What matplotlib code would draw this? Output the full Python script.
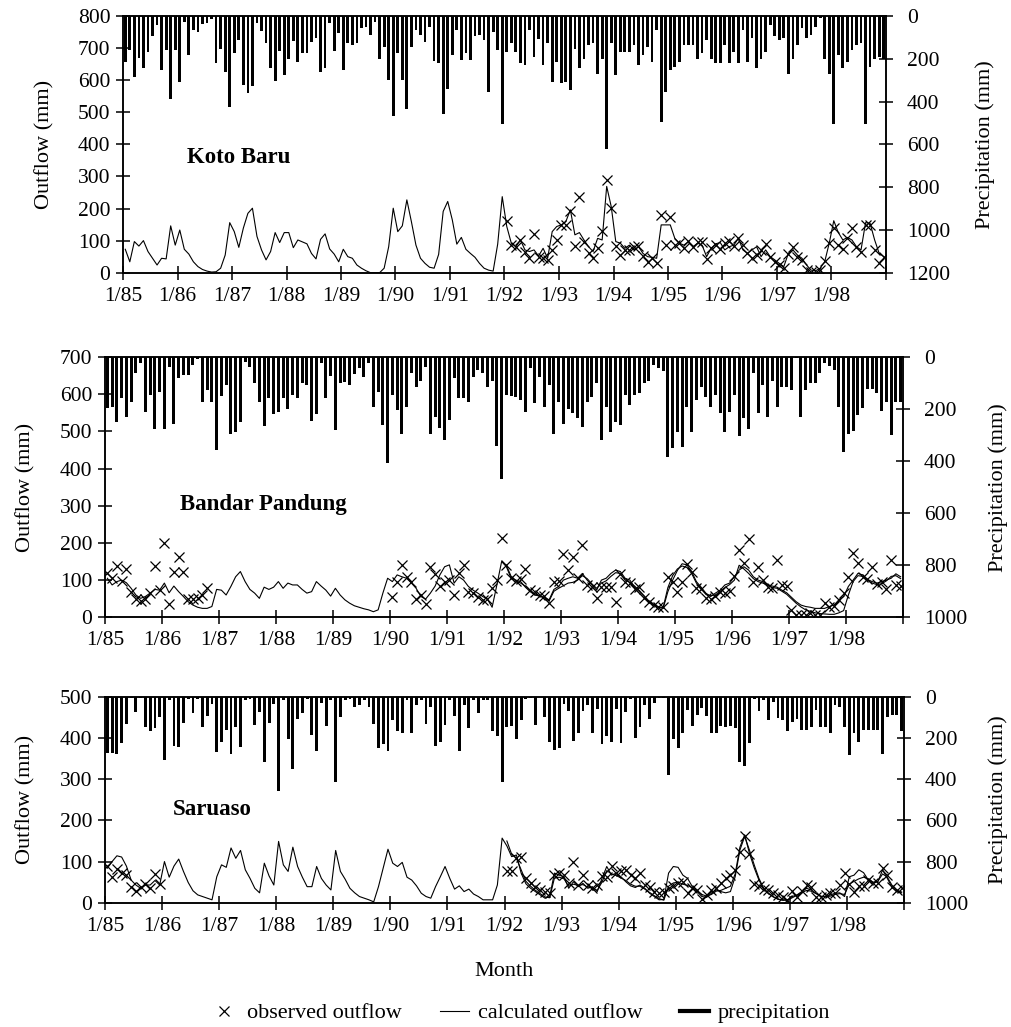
import numpy as np
import matplotlib
matplotlib.use('Agg')
import matplotlib.pyplot as plt
from matplotlib.lines import Line2D

plt.rcParams['font.family'] = ['Liberation Serif', 'DejaVu Serif']

year_labels = ['1/85', '1/86', '1/87', '1/88', '1/89', '1/90', '1/91',
               '1/92', '1/93', '1/94', '1/95', '1/96', '1/97', '1/98', '']

# ---- Koto Baru (monthly, 1/85 .. 12/98) ----
precip_kb = [214, 159, 284, 198, 245, 167, 94, 42, 253, 159,
             386, 159, 308, 27, 183, 66, 73, 38, 31, 16,
             219, 152, 261, 425, 172, 113, 323, 359, 328, 34,
             69, 128, 241, 305, 164, 277, 203, 116, 214, 172,
             175, 120, 105, 261, 245, 34, 164, 81, 253, 128,
             136, 128, 58, 53, 89, 27, 203, 144, 297, 469,
             175, 297, 436, 144, 66, 89, 120, 50, 209, 222,
             456, 342, 183, 66, 206, 175, 206, 94, 89, 113,
             355, 73, 159, 503,
             167, 128, 167, 222, 230, 66, 191, 109, 230, 128,
             308, 214, 313, 308, 347, 152, 245, 203, 136, 128,
             269, 203, 620, 128, 277, 167, 167, 167, 136, 230,
             183, 144, 214, 66, 495, 355, 253, 238, 214, 136,
             136, 136, 203, 175, 113, 203, 222, 222, 136, 222,
             167, 222, 66, 214, 105, 245, 203, 167, 42, 94,
             113, 105, 269, 203, 136, 58, 105, 89, 50, 11,
             203, 269, 503, 183, 245, 214, 159, 136, 128, 503,
             238, 203, 191, 203]
calc_kb = [73, 34, 97, 83, 100, 66, 45, 24, 45, 43,
           146, 86, 133, 73, 58, 34, 19, 10, 5, 2,
           3, 14, 55, 156, 128, 79, 139, 185, 201, 113,
           71, 40, 66, 125, 94, 125, 125, 78, 102, 96,
           90, 60, 43, 104, 121, 74, 58, 34, 73, 50,
           45, 24, 14, 6, 0, 0, 0, 14, 81, 201,
           128, 146, 227, 159, 86, 45, 29, 17, 14, 57,
           191, 222, 165, 89, 110, 73, 60, 48, 29, 14,
           8, 5, 89, 237,
           144, 92, 81, 102, 71, 66, 71, 52, 76, 45,
           128, 144, 149, 159, 196, 118, 125, 102, 81, 66,
           107, 102, 269, 206, 97, 92, 76, 86, 71, 81,
           60, 50, 48, 45, 149, 149, 149, 107, 92, 86,
           97, 81, 92, 86, 50, 76, 90, 94, 71, 81,
           86, 107, 71, 60, 71, 81, 50, 71, 50, 40,
           29, 19, 60, 71, 55, 45, 24, 8, 6, 14,
           34, 92, 162, 125, 102, 110, 102, 81, 71, 156,
           154, 102, 60, 50]
obs_kb_start = 84
obs_kb = [162, 86, 81, 102, 66, 45, 120, 50, 45, 40,
          71, 102, 149, 149, 191, 83, 235, 97, 60, 45,
          76, 131, 290, 201, 83, 55, 71, 71, 81, 83,
          52, 34, 45, 29, 180, 86, 175, 86, 92, 76,
          100, 81, 97, 97, 42, 76, 86, 73, 92, 100,
          83, 107, 86, 60, 45, 55, 71, 90, 50, 34,
          24, 14, 58, 81, 50, 40, 8, 3, 3, 8,
          38, 92, 139, 86, 73, 107, 139, 81, 66, 149,
          149, 71, 29, 50]

# ---- Bandar Pandung ----
precip_bp = [197, 191, 249, 159, 229, 174, 63, 24, 210, 146,
             278, 133, 278, 37, 258, 82, 69, 69, 31, 9,
             174, 127, 174, 358, 149, 108, 294, 287, 249, 18,
             37, 101, 172, 265, 159, 219, 210, 159, 201, 146,
             159, 101, 108, 245, 219, 24, 159, 73, 281, 101,
             95, 108, 65, 44, 76, 24, 194, 133, 262, 409,
             146, 204, 294, 191, 60, 114, 91, 37, 294, 229,
             271, 319, 242, 82, 159, 159, 174, 76, 50, 63,
             114, 91, 341, 470,
             146, 150, 154, 165, 210, 44, 178, 76, 191, 108,
             294, 174, 258, 201, 217, 236, 268, 172, 154, 101,
             317, 194, 287, 249, 262, 146, 185, 146, 140, 101,
             91, 31, 44, 53, 386, 351, 287, 345, 191, 287,
             165, 114, 154, 194, 146, 217, 287, 210, 146, 304,
             236, 278, 60, 217, 108, 232, 91, 191, 117, 114,
             127, 5, 229, 127, 101, 101, 60, 22, 35, 50,
             191, 364, 294, 283, 223, 197, 124, 124, 140, 206,
             172, 300, 172, 172]
calc_bp = [105, 87, 96, 100, 93, 78, 60, 51, 56, 65,
           75, 73, 92, 66, 84, 69, 56, 42, 33, 27,
           24, 24, 29, 75, 73, 60, 83, 109, 123, 96,
           75, 65, 51, 81, 75, 81, 96, 78, 92, 87,
           87, 75, 65, 69, 96, 84, 73, 57, 78, 60,
           47, 38, 31, 27, 23, 20, 15, 20, 65, 105,
           96, 114, 109, 105, 92, 78, 56, 49, 65, 84,
           114, 136, 141, 92, 109, 100, 83, 73, 65, 56,
           49, 27, 87, 150,
           136, 105, 100, 96, 81, 69, 60, 57, 54, 47,
           75, 83, 100, 105, 109, 105, 118, 100, 87, 73,
           100, 105, 118, 127, 123, 105, 100, 81, 69, 56,
           42, 33, 27, 24, 69, 100, 126, 144, 141, 123,
           96, 81, 65, 56, 65, 73, 87, 92, 109, 127,
           136, 127, 109, 100, 96, 87, 84, 81, 73, 66,
           54, 42, 33, 29, 27, 24, 24, 24, 29, 33,
           47, 56, 83, 100, 118, 114, 102, 96, 92, 96,
           100, 105, 117, 109]
# second calculated run visible from 1/92 onwards
calc2_bp_start = 84
calc2_bp = [140, 110, 98, 92, 84, 72, 63, 58, 52, 44,
            70, 78, 85, 92, 94, 100, 112, 104, 90, 78,
            92, 98, 110, 120, 118, 100, 94, 84, 72, 58,
            44, 35, 28, 26, 80, 112, 130, 138, 134, 118,
            92, 78, 62, 58, 60, 70, 80, 88, 100, 140,
            130, 118, 104, 96, 92, 86, 80, 78, 70, 62,
            50, 38, 28, 20, 16, 12, 10, 9, 8, 8,
            12, 18, 60, 96, 112, 110, 100, 92, 88, 90,
            98, 110, 112, 104]
obs_bp_early_start = 0
obs_bp_early = [118, 105, 138, 98, 129, 69, 48, 45, 48, 65,
                138, 73, 199, 36, 123, 162, 123, 48, 48, 51,
                60, 78]
obs_bp_late_start = 60
obs_bp_late = [54, 96, 141, 108, 96, 48, 60, 36, 136, 117,
               84, 96, 100, 60, 120, 141, 69, 66, 54, 47,
               49, 78, 100, 213,
               141, 105, 98, 102, 129, 73, 69, 60, 56, 39,
               96, 98, 170, 126, 161, 105, 195, 87, 81, 51,
               81, 81, 81, 42, 117, 96, 92, 75, 81, 51,
               42, 33, 27, 27, 108, 96, 69, 96, 144, 123,
               78, 75, 51, 48, 56, 69, 65, 72, 111, 181,
               145, 210, 96, 136, 100, 81, 78, 153, 87, 84,
               20, 6, 6, 6, 11, 6, 6, 38, 29, 31,
               47, 66, 109, 174, 145, 108, 102, 136, 90, 96,
               75, 153, 87, 84]

# ---- Saruaso ----
precip_sa = [272, 272, 275, 223, 132, 7, 72, 5, 148, 164,
             153, 96, 307, 15, 239, 242, 128, 11, 80, 11,
             145, 93, 34, 267, 218, 161, 275, 145, 242, 15,
             11, 137, 72, 315, 128, 34, 457, 15, 202, 348,
             109, 80, 11, 185, 262, 31, 141, 15, 413, 99,
             15, 11, 47, 39, 15, 47, 132, 250, 229, 262,
             112, 164, 177, 15, 174, 39, 15, 132, 50, 239,
             218, 137, 15, 93, 262, 39, 153, 15, 76, 15,
             15, 164, 190, 413,
             145, 141, 206, 112, 11, 7, 137, 2, 99, 218,
             259, 246, 34, 67, 213, 177, 67, 39, 174, 60,
             229, 190, 218, 60, 223, 72, 11, 197, 145, 39,
             109, 31, 3, 7, 381, 202, 246, 177, 63, 141,
             88, 55, 93, 174, 174, 141, 145, 141, 153, 315,
             337, 223, 11, 67, 15, 112, 23, 104, 112, 164,
             120, 109, 158, 161, 145, 63, 148, 148, 174, 39,
             47, 148, 283, 174, 218, 161, 158, 158, 158, 275,
             99, 88, 88, 164]
calc_sa = [84, 100, 114, 111, 89, 55, 43, 35, 43, 43,
           54, 43, 100, 62, 89, 106, 76, 49, 29, 19,
           15, 11, 7, 63, 92, 86, 133, 108, 127, 80,
           59, 35, 24, 96, 65, 43, 149, 92, 76, 135,
           88, 62, 39, 39, 88, 59, 43, 31, 127, 76,
           57, 35, 24, 15, 11, 7, 2, 39, 84, 130,
           96, 88, 98, 62, 55, 41, 23, 15, 11, 39,
           63, 88, 59, 33, 41, 27, 33, 21, 15, 7,
           7, 7, 43, 157,
           138, 112, 116, 72, 46, 35, 27, 19, 11, 15,
           72, 67, 63, 35, 51, 39, 47, 35, 39, 27,
           59, 88, 67, 72, 63, 51, 41, 37, 43, 35,
           23, 15, 7, 8, 72, 88, 86, 67, 59, 39,
           27, 15, 13, 23, 31, 27, 24, 27, 63, 128,
           161, 128, 92, 59, 35, 23, 15, 8, 7, 7,
           15, 19, 27, 35, 31, 23, 15, 15, 19, 23,
           24, 15, 63, 67, 80, 73, 55, 47, 51, 80,
           59, 37, 27, 24]
calc2_sa_start = 84
calc2_sa = [150, 118, 108, 80, 52, 40, 30, 22, 14, 12,
            60, 62, 58, 40, 45, 42, 44, 38, 36, 30,
            50, 78, 70, 66, 60, 54, 45, 40, 40, 33,
            25, 17, 10, 6, 40, 48, 50, 45, 42, 36,
            28, 20, 16, 20, 28, 30, 35, 40, 70, 135,
            165, 120, 85, 55, 33, 22, 14, 9, 6, 6,
            12, 18, 24, 30, 28, 22, 16, 14, 16, 20,
            22, 20, 45, 52, 58, 62, 58, 50, 52, 70,
            62, 42, 30, 26]
obs_sa_early_start = 0
obs_sa_early = [89, 63, 81, 73, 67, 39, 29, 39, 46, 35, 70, 46]
obs_sa_late_start = 84
obs_sa_late = [76, 76, 108, 111, 59, 47, 37, 31, 27, 23,
               67, 72, 67, 47, 100, 43, 67, 43, 35, 43,
               65, 63, 89, 72, 76, 80, 67, 59, 72, 43,
               39, 27, 23, 27, 35, 41, 47, 51, 23, 35,
               31, 8, 19, 31, 35, 47, 59, 67, 80, 124,
               163, 119, 46, 41, 33, 31, 24, 19, 13, 7,
               29, 15, 29, 43, 39, 15, 15, 19, 23, 23,
               43, 73, 46, 27, 41, 41, 55, 49, 47, 84,
               67, 39, 31, 35]

W, H = 1011, 1027
fig = plt.figure(figsize=(W / 100, H / 100), dpi=100)

FS = 15.5
tick_kw = dict(direction='inout', length=10, width=1.1, labelsize=FS, colors='black')


def px_rect(x0, y0, x1, y1):
    # pixel box (top-left origin) -> figure fraction rect
    return [x0 / W, 1 - y1 / H, (x1 - x0) / W, (y1 - y0) / H]


def draw_panel(box, name, name_xy, calc, precip, obs_sets, ymax, pmax,
               extra=None, ylab_x=(40, 985)):
    ax = fig.add_axes(px_rect(*box))
    months = np.arange(len(calc)) + 0.5
    ax.plot(months, calc, color='black', lw=0.8)
    if extra is not None:
        start, vals = extra
        ax.plot(start + np.arange(len(vals)) + 0.5, vals, color='black', lw=0.8)
    for start, vals in obs_sets:
        xm = start + np.arange(len(vals)) + 0.5
        ax.plot(xm, vals, ls='none', marker='x', ms=6.5, mew=0.9, color='black')
    ax.set_xlim(0, 168)
    ax.set_ylim(0, ymax)
    ax.set_yticks(np.arange(0, ymax + 1, 100))
    ax.set_xticks(np.arange(0, 169, 12))
    ax.set_xticklabels(year_labels)
    ax.tick_params(axis='both', pad=4, **tick_kw)
    ax.tick_params(axis='x', pad=5)
    for s in ax.spines.values():
        s.set_linewidth(1.1)
    ax.text(name_xy[0], name_xy[1], name, transform=ax.transAxes,
            fontsize=FS + 1, fontweight='bold', ha='left', va='baseline')

    ax2 = ax.twinx()
    ax2.bar(months, precip, width=0.6, color='black', linewidth=0)
    ax2.set_ylim(pmax, 0)
    ax2.set_yticks(np.arange(0, pmax + 1, 200))
    ax2.tick_params(axis='y', pad=10, **tick_kw)
    for s in ax2.spines.values():
        s.set_linewidth(1.1)

    yc = 1 - (box[1] + box[3]) / 2 / H
    fig.text(ylab_x[0] / W, yc, 'Outflow (mm)', rotation=90,
             ha='center', va='center', fontsize=FS + 0.5)
    fig.text(ylab_x[1] / W, yc, 'Precipitation (mm)', rotation=90,
             ha='center', va='center', fontsize=FS + 0.5)
    return ax


draw_panel((123, 16, 886, 272.7), 'Koto Baru', (0.084, 0.428),
           calc_kb, precip_kb, [(obs_kb_start, obs_kb)], 800, 1200,
           ylab_x=(45, 985))
draw_panel((105, 357, 903, 617.3), 'Bandar Pandung', (0.094, 0.413),
           calc_bp, precip_bp,
           [(obs_bp_early_start, obs_bp_early), (obs_bp_late_start, obs_bp_late)],
           700, 1000, extra=(calc2_bp_start, calc2_bp), ylab_x=(26, 998))
draw_panel((105, 697, 904, 902.7), 'Saruaso', (0.085, 0.426),
           calc_sa, precip_sa,
           [(obs_sa_early_start, obs_sa_early), (obs_sa_late_start, obs_sa_late)],
           500, 1000, extra=(calc2_sa_start, calc2_sa), ylab_x=(26, 998))

fig.text(504 / W, 1 - 972 / H, 'Month', ha='center', va='center', fontsize=FS + 0.5)

handles = [Line2D([], [], ls='none', marker='x', ms=6.5, mew=0.9, color='black'),
           Line2D([], [], color='black', lw=0.8),
           Line2D([], [], color='black', lw=3)]
fig.legend(handles, ['observed outflow', 'calculated outflow', 'precipitation'],
           loc='center', bbox_to_anchor=(520 / W, 1 - 1013 / H), ncol=3,
           frameon=False, fontsize=FS + 0.5, handlelength=1.3, columnspacing=1.7,
           handletextpad=0.4)

fig.savefig('out.png', dpi=100)
